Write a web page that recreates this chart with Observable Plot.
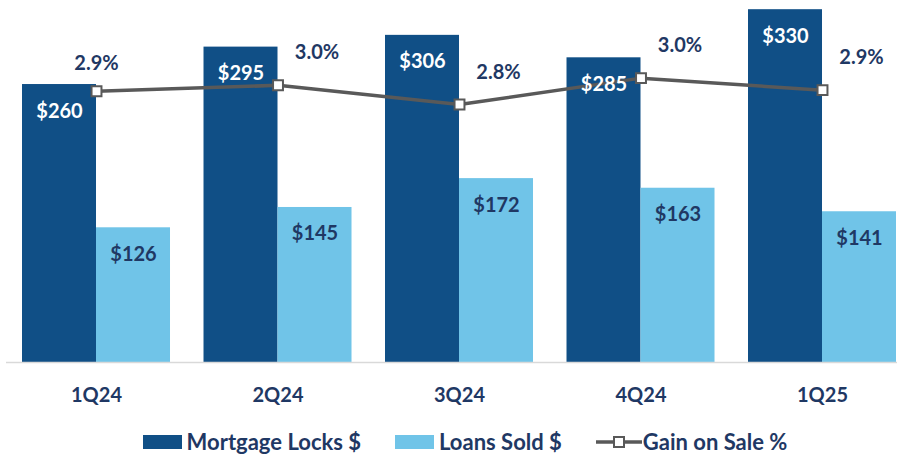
<!DOCTYPE html>
<html>
<head>
<meta charset="utf-8">
<script src="https://cdn.jsdelivr.net/npm/d3@7"></script>
<script src="https://cdn.jsdelivr.net/npm/@observablehq/plot@0.6"></script>
<style>
  html, body { margin: 0; padding: 0; background: #fff; }
  body { width: 904px; height: 454px; overflow: hidden; font-family: Lato, "Noto Sans", sans-serif; }
  #legend { display: flex; justify-content: center; align-items: center; padding-left: 26px; margin-top: 19px;
    font-family: Lato, sans-serif; font-weight: bold; font-size: 22px; color: #1F3864; line-height: 22px; }
  .item { display: flex; align-items: center; margin: 0 17px; }
  .sw { width: 39px; height: 14px; margin-right: 5px; }
</style>
</head>
<body>
<div id="chart"></div>
<div id="legend"></div>
<script>
// ---- data ----
const quarters = ["1Q24", "2Q24", "3Q24", "4Q24", "1Q25"];
const mortgageLocks = [260, 295, 306, 285, 330];
const loansSold = [126, 145, 172, 163, 141];
const gainOnSale = [2.91, 2.96, 2.80, 3.02, 2.92];
const seriesNames = ["Mortgage Locks $", "Loans Sold $", "Gain on Sale %"];

// ---- styles ----
const darkBlue = "#104F86";
const lightBlue = "#70C4E8";
const navy = "#1F3864";
const gray = "#595959";

const idx = d3.range(quarters.length);
const barW = 0.4077; // bar width in x units (one quarter = 1 unit)

// secondary (percent) axis mapped into primary y domain
const gainToY = d3.scaleLinear().domain([0.65, 3.667]).range([0, 338.6]);

const rows = idx.map(i => ({
  i, q: quarters[i], locks: mortgageLocks[i], sold: loansSold[i],
  gain: gainOnSale[i], gy: gainToY(gainOnSale[i])
}));

const chart = Plot.plot({
  width: 904,
  height: 412,
  marginLeft: 6,
  marginRight: 7,
  marginTop: 0,
  marginBottom: 50,
  style: { fontFamily: "Lato, sans-serif", background: "white", color: navy, overflow: "visible" },
  x: { type: "linear", domain: [-0.4959, 4.4132] },
  y: { domain: [0, 338.6], axis: null },
  marks: [
    Plot.rectY(rows, { x1: d => d.i - barW, x2: d => d.i, y: "locks", fill: darkBlue, inset: 0 }),
    Plot.rectY(rows, { x1: d => d.i, x2: d => d.i + barW, y: "sold", fill: lightBlue, inset: 0 }),
    Plot.ruleY([0], { stroke: "#D9D9D9", strokeWidth: 1.5 }),
    Plot.line(rows, { x: "i", y: "gy", stroke: gray, strokeWidth: 3.5 }),
    Plot.dot(rows, { x: "i", y: "gy", symbol: "square", r: 5.6, fill: "white", stroke: gray, strokeWidth: 2 }),
    Plot.text(rows, { x: d => d.i - barW / 2, y: "locks", text: d => "$" + d.locks, fill: "white",
      fontSize: 20, fontWeight: "bold", dy: 26.6 }),
    Plot.text(rows, { x: d => d.i + barW / 2, y: "sold", text: d => "$" + d.sold, fill: navy,
      fontSize: 20, fontWeight: "bold", dy: 26.6 }),
    Plot.text(rows.filter(d => d.i === 0), { x: "i", y: "gy", text: d => d.gain.toFixed(1) + "%", fill: navy,
      fontSize: 20, fontWeight: "bold", dy: -27.4 }),
    Plot.text(rows.filter(d => d.i > 0), { x: "i", y: "gy", text: d => d.gain.toFixed(1) + "%", fill: navy,
      fontSize: 20, fontWeight: "bold", dx: 39, dy: -32.4 }),
    Plot.axisX({ ticks: idx, tickFormat: i => quarters[i], tickSize: 0, tickPadding: 25,
      fontSize: 20, fontWeight: "bold", fill: navy, label: null })
  ]
});
document.getElementById("chart").appendChild(chart);

// ---- legend ----
const legend = d3.select("#legend");
const it1 = legend.append("div").attr("class", "item");
it1.append("div").attr("class", "sw").style("background", darkBlue);
it1.append("span").text(seriesNames[0]);
const it2 = legend.append("div").attr("class", "item");
it2.append("div").attr("class", "sw").style("background", lightBlue);
it2.append("span").text(seriesNames[1]);
const it3 = legend.append("div").attr("class", "item");
const sv = it3.append("svg").attr("width", 46).attr("height", 16).style("margin-right", "1px");
sv.append("line").attr("x1", 0).attr("x2", 46).attr("y1", 8).attr("y2", 8)
  .attr("stroke", gray).attr("stroke-width", 3.5);
sv.append("rect").attr("x", 18).attr("y", 3).attr("width", 10).attr("height", 10)
  .attr("fill", "white").attr("stroke", gray).attr("stroke-width", 2);
it3.append("span").text(seriesNames[2]);
</script>
</body>
</html>
